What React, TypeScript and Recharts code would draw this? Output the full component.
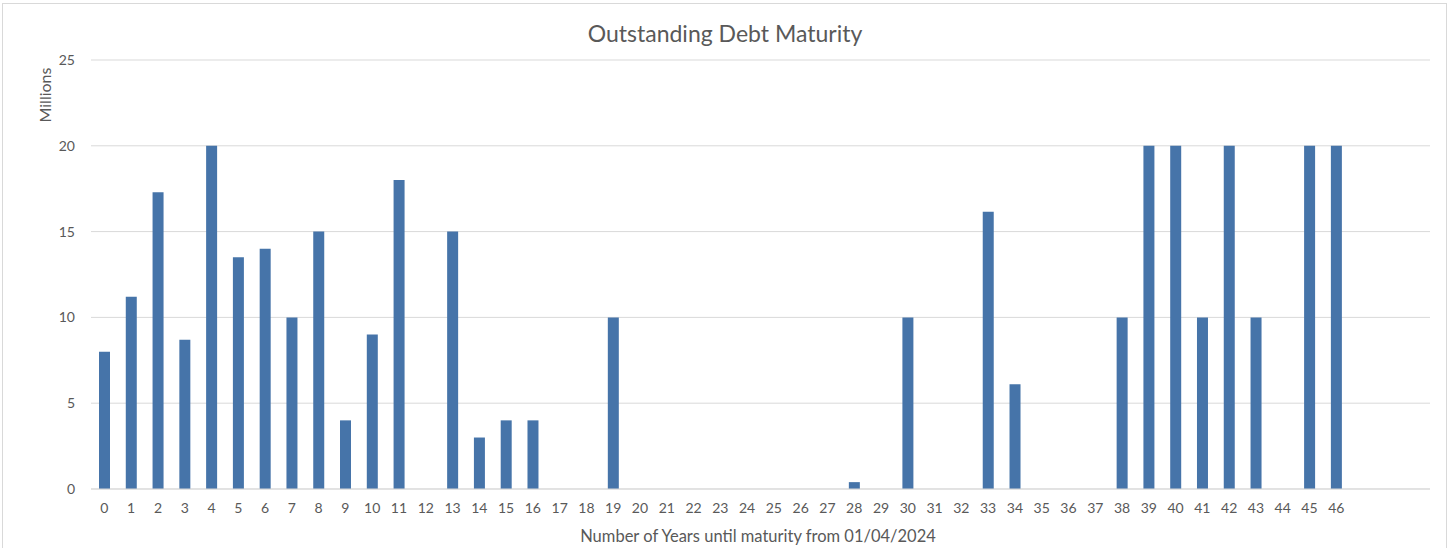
import * as React from "react"
import { BarChart, Bar, XAxis, YAxis, CartesianGrid } from "recharts"

// years until maturity (the last three slots are empty, unlabelled)
const years = [
  "0", "1", "2", "3", "4", "5", "6", "7", "8", "9",
  "10", "11", "12", "13", "14", "15", "16", "17", "18", "19",
  "20", "21", "22", "23", "24", "25", "26", "27", "28", "29",
  "30", "31", "32", "33", "34", "35", "36", "37", "38", "39",
  "40", "41", "42", "43", "44", "45", "46", "", " ", "  ",
]

// outstanding debt, millions
const amounts = [
  8, 11.2, 17.3, 8.7, 20, 13.5, 14, 10, 15, 4,
  9, 18, 0, 15, 3, 4, 4, 0, 0, 10,
  0, 0, 0, 0, 0, 0, 0, 0, 0.4, 0,
  10, 0, 0, 16.15, 6.1, 0, 0, 0, 10, 20,
  20, 10, 20, 10, 0, 20, 20, 0, 0, 0,
]

const yTicks = [0, 5, 10, 15, 20, 25]

const data = years.map((y, i) => ({ year: y, amount: amounts[i] }))

const FONT = "Lato, 'Open Sans', sans-serif"
const TEXT = "#595959"

export default function App() {
  return (
    <div
      style={{
        position: "fixed",
        left: 0,
        top: 0,
        width: 1450,
        height: 548,
        background: "#fff",
        overflow: "hidden",
        fontFamily: FONT,
      }}
    >
      <div
        style={{
          position: "absolute",
          left: 2,
          top: 3,
          width: 1443,
          height: 560,
          border: "1px solid #d9d9d9",
        }}
      />
      <div
        style={{
          position: "absolute",
          left: 0,
          width: 1450,
          top: 19,
          textAlign: "center",
          fontSize: 23,
          lineHeight: "28px",
          color: TEXT,
        }}
      >
        Outstanding Debt Maturity
      </div>
      <div
        style={{
          position: "absolute",
          left: 45,
          top: 95,
          transform: "translate(-50%, -50%) rotate(-90deg)",
          fontSize: 16,
          lineHeight: "18px",
          color: TEXT,
          whiteSpace: "nowrap",
        }}
      >
        Millions
      </div>
      <div
        style={{
          position: "absolute",
          left: 758,
          top: 536,
          transform: "translate(-50%, -50%)",
          fontSize: 16.5,
          lineHeight: "18px",
          color: TEXT,
          whiteSpace: "nowrap",
        }}
      >
        Number of Years until maturity from 01/04/2024
      </div>
      <div style={{ position: "absolute", left: 0, top: 0 }}>
        <BarChart
          width={1450}
          height={548}
          data={data}
          margin={{ top: 60, right: 20, bottom: 29, left: 0 }}
        >
          <CartesianGrid vertical={false} stroke="#d9d9d9" />
          <XAxis
            dataKey="year"
            interval={0}
            tickLine={false}
            axisLine={{ stroke: "#d9d9d9" }}
            tick={{ fill: TEXT, fontSize: 14, fontFamily: FONT }}
            tickMargin={8}
            height={30}
          />
          <YAxis
            width={91}
            domain={[0, 25]}
            ticks={yTicks}
            tickLine={false}
            axisLine={false}
            tick={{ fill: TEXT, fontSize: 14, fontFamily: FONT }}
            tickMargin={10}
          />
          <Bar dataKey="amount" fill="#4674a9" barSize={11} isAnimationActive={false} />
        </BarChart>
      </div>
    </div>
  )
}
